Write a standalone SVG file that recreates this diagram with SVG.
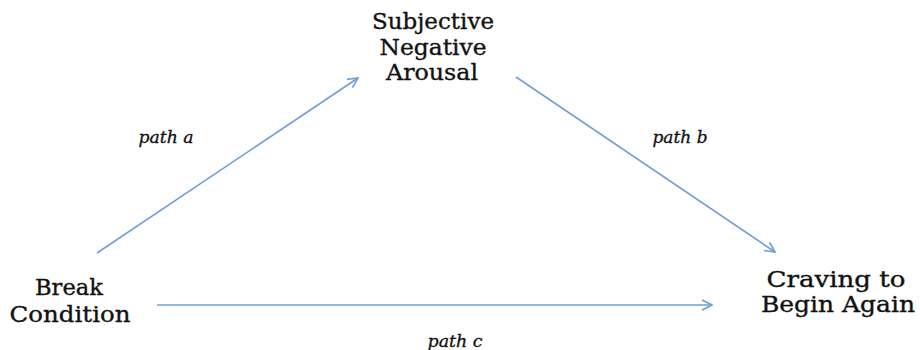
<svg xmlns="http://www.w3.org/2000/svg" width="920" height="350" viewBox="0 0 920 350">
<defs>
<style>
.n{font-family:"DejaVu Serif","Liberation Serif",serif;font-size:22px;fill:#111;stroke:#111;stroke-width:0.35;text-anchor:middle}
.l{font-family:"DejaVu Serif","Liberation Serif",serif;font-size:16px;font-style:italic;fill:#111;stroke:#111;stroke-width:0.3;text-anchor:middle}
.c{stroke:#6f9fd8;stroke-width:1.6;fill:none;marker-end:url(#ah)}
</style>
<marker id="ah" viewBox="0 0 12 12" refX="11" refY="6" markerWidth="12" markerHeight="12" markerUnits="userSpaceOnUse" orient="auto">
<path d="M1,1 L11,6 L1,11" fill="none" stroke="#6f9fd8" stroke-width="1.6"/>
</marker>
</defs>
<rect width="920" height="350" fill="#fff"/>
<g id="connectors">
<line class="c" x1="97" y1="253" x2="358" y2="78"/>
<line class="c" x1="516" y1="77" x2="775" y2="252"/>
<line class="c" x1="157" y1="305" x2="712" y2="305"/>
<text class="l" x="166" y="143" textLength="55" lengthAdjust="spacingAndGlyphs">path a</text>
<text class="l" x="680" y="143" textLength="55" lengthAdjust="spacingAndGlyphs">path b</text>
<text class="l" x="455" y="347" textLength="55" lengthAdjust="spacingAndGlyphs">path c</text>
</g>
<g id="node-sna">
<text class="n" x="433" y="29" textLength="122" lengthAdjust="spacingAndGlyphs">Subjective</text>
<text class="n" x="433" y="55" textLength="107" lengthAdjust="spacingAndGlyphs">Negative</text>
<text class="n" x="432" y="80" textLength="92" lengthAdjust="spacingAndGlyphs">Arousal</text>
</g>
<g id="node-break">
<text class="n" x="69" y="295" textLength="68" lengthAdjust="spacingAndGlyphs">Break</text>
<text class="n" x="70" y="322" textLength="121" lengthAdjust="spacingAndGlyphs">Condition</text>
</g>
<g id="node-craving">
<text class="n" x="836" y="287" textLength="139" lengthAdjust="spacingAndGlyphs">Craving to</text>
<text class="n" x="838" y="312" textLength="154" lengthAdjust="spacingAndGlyphs">Begin Again</text>
</g>
</svg>
